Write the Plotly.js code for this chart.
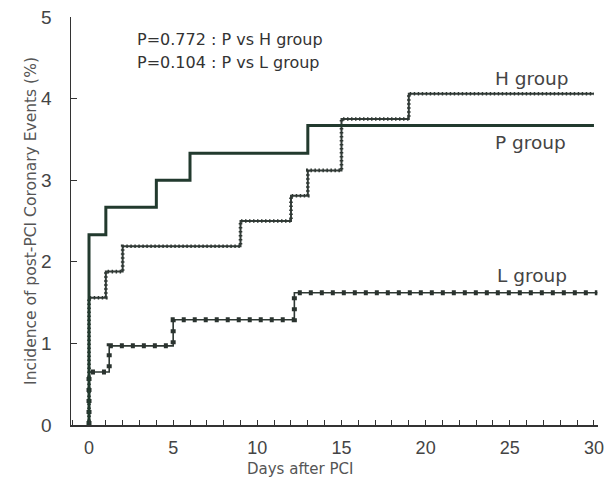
<!DOCTYPE html>
<html>
<head>
<meta charset="utf-8">
<script src="https://cdn.plot.ly/plotly-3.0.1.min.js"></script>
<style>
html,body{margin:0;padding:0;background:#fff;}
#chart{width:613px;height:479px;}
</style>
</head>
<body>
<div id="chart"></div>
<script>
// Days after PCI (event times) and cumulative incidence (%)
var pDays = [0, 0, 1, 4, 6, 13, 30];
var pIncidence = [0, 2.33, 2.67, 3.00, 3.33, 3.67, 3.67];

var hDays = [0, 0, 1, 2, 9, 12, 13, 15, 19, 30];
var hIncidence = [0, 1.56, 1.88, 2.19, 2.50, 2.81, 3.12, 3.75, 4.06, 4.06];

var lDays = [0, 0, 1.2, 5, 12.2, 30.2];
var lIncidence = [0, 0.65, 0.97, 1.29, 1.62, 1.62];

var xTicks = [0, 5, 10, 15, 20, 25, 30];
var yTicks = [0, 1, 2, 3, 4, 5];

var groupLabels = ["H group", "P group", "L group"];
var pValueLabels = ["P=0.772 : P vs H group", "P=0.104 : P vs L group"];

var FONT = "Liberation Sans, Arial, sans-serif";
var WIDE = "DejaVu Sans, Verdana, sans-serif";
var TXT = "#3a3a3a";

var traces = [
  // L group: thin line + dots
  {x: lDays, y: lIncidence, mode: "lines", line: {shape: "hv", color: "#2e3833", width: 1.6}, hoverinfo: "skip", showlegend: false},
  {x: lDays, y: lIncidence, mode: "lines", line: {shape: "hv", color: "#2a332f", width: 5, dash: "4px,7px"}, hoverinfo: "skip", showlegend: false},
  // H group: line with fine dotted texture
  {x: hDays, y: hIncidence, mode: "lines", line: {shape: "hv", color: "#343d39", width: 2}, hoverinfo: "skip", showlegend: false},
  {x: hDays, y: hIncidence, mode: "lines", line: {shape: "hv", color: "#2f3834", width: 3.6, dash: "1.5px,2.5px"}, hoverinfo: "skip", showlegend: false},
  // P group: thick solid
  {x: pDays, y: pIncidence, mode: "lines", line: {shape: "hv", color: "#223a2e", width: 3}, hoverinfo: "skip", showlegend: false}
];

var layout = {
  width: 613, height: 479,
  margin: {l: 71, r: 15, t: 17, b: 54},
  paper_bgcolor: "#fff", plot_bgcolor: "#fff",
  showlegend: false,
  font: {family: FONT, color: TXT},
  xaxis: {
    range: [-1.07, 30.24],
    tickvals: xTicks, ticktext: xTicks.map(String),
    ticks: "inside", ticklen: 5, tickwidth: 1, tickcolor: "#333",
    minor: {dtick: 1, tick0: 0, ticks: "inside", ticklen: 5, tickwidth: 1, tickcolor: "#333"},
    showline: true, linecolor: "#333", linewidth: 1.5,
    showgrid: false, zeroline: false,
    tickfont: {size: 18, color: "#444"},
    ticklabelstandoff: 6
  },
  yaxis: {
    range: [0, 5],
    tickvals: yTicks, ticktext: yTicks.map(String),
    ticks: "inside", ticklen: 6, tickwidth: 1, tickcolor: "#333",
    showline: true, linecolor: "#333", linewidth: 1.5,
    showgrid: false, zeroline: false,
    tickfont: {size: 19, color: "#444"},
    ticklabelstandoff: 14,
    title: {text: "Incidence of post-PCI Coronary Events (%)", font: {family: WIDE, size: 15.5, color: "#555"}, standoff: 0}
  },
  annotations: [
    {xref: "paper", yref: "paper", x: (300 - 71) / 527, y: (479 - 54 - 469) / 408, text: "Days after PCI", showarrow: false, xanchor: "center", yanchor: "middle", font: {family: WIDE, size: 15, color: "#555"}},
    {xref: "x", yref: "y", x: 2.73, y: 4.72, text: pValueLabels[0], showarrow: false, xanchor: "left", yanchor: "middle", font: {family: WIDE, size: 16, color: "#333"}},
    {xref: "x", yref: "y", x: 2.73, y: 4.44, text: pValueLabels[1], showarrow: false, xanchor: "left", yanchor: "middle", font: {family: WIDE, size: 16, color: "#333"}},
    {xref: "x", yref: "y", x: 24.0, y: 4.25, text: groupLabels[0], showarrow: false, xanchor: "left", yanchor: "middle", font: {family: WIDE, size: 18.5, color: "#444"}},
    {xref: "x", yref: "y", x: 24.0, y: 3.46, text: groupLabels[1], showarrow: false, xanchor: "left", yanchor: "middle", font: {family: WIDE, size: 18.5, color: "#444"}},
    {xref: "x", yref: "y", x: 24.1, y: 1.83, text: groupLabels[2], showarrow: false, xanchor: "left", yanchor: "middle", font: {family: WIDE, size: 18.5, color: "#444"}}
  ]
};

Plotly.newPlot("chart", traces, layout, {staticPlot: true, displayModeBar: false});
</script>
</body>
</html>
